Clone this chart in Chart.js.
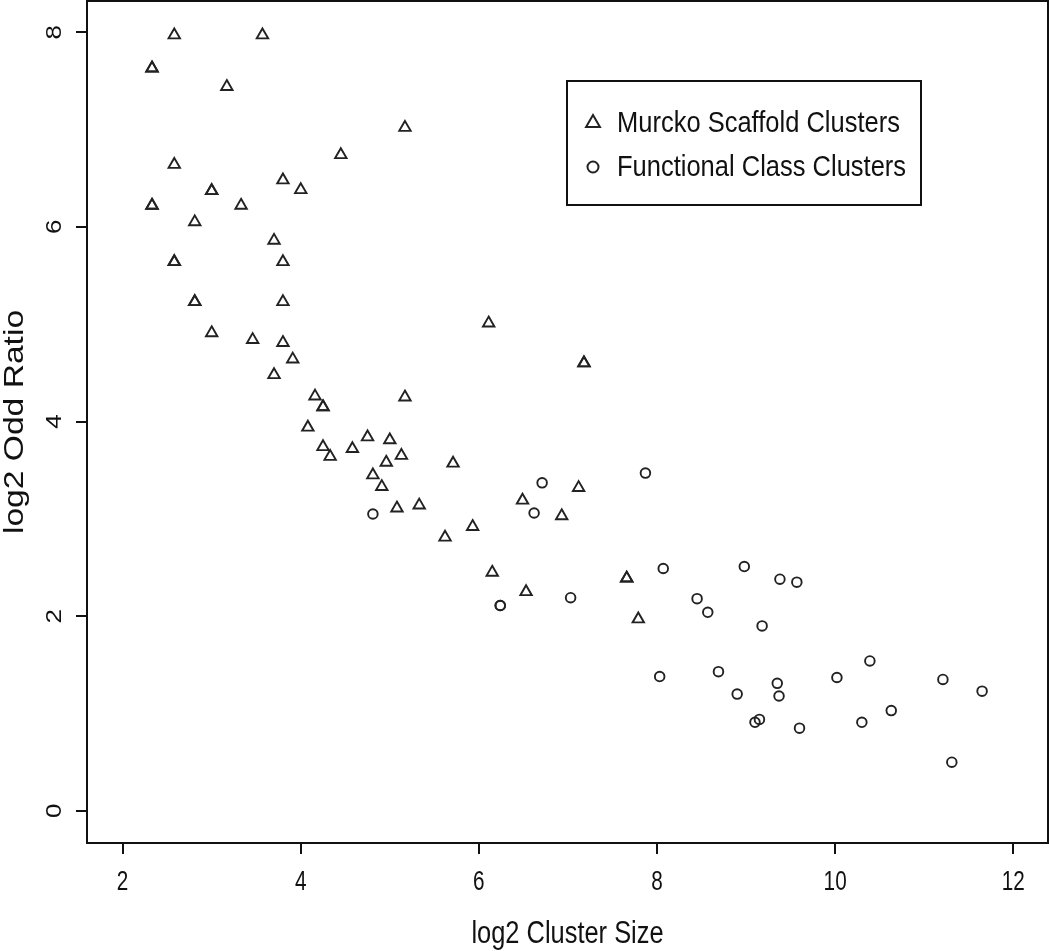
<!DOCTYPE html>
<html>
<head>
<meta charset="utf-8">
<title>log2 Odd Ratio vs log2 Cluster Size</title>
<script src="https://cdn.jsdelivr.net/npm/chart.js@4.4.1/dist/chart.umd.min.js"></script>
<style>
  html, body { margin: 0; padding: 0; background: #fff; }
  #chart { display: block; }
</style>
</head>
<body>
<canvas id="chart" width="1050" height="951"></canvas>
<script>
// Murcko scaffold clusters (triangles); repeated entries are overplotted points
const murckoX = [2.58, 3.57, 2.33, 2.33, 3.17, 5.17, 4.45, 2.58, 3.80, 4.00,
                 3.00, 3.00, 2.33, 2.33, 3.33, 2.81, 3.70, 2.58, 2.58, 3.80,
                 2.81, 2.81, 3.80, 3.00, 3.46, 3.80, 3.91, 3.70, 6.11, 7.18,
                 7.18, 4.16, 4.25, 4.25, 5.17, 4.08, 4.25, 4.33, 4.58, 4.75,
                 5.00, 4.81, 4.96, 5.13, 5.71, 4.91, 5.08, 5.33, 5.62, 5.93,
                 6.49, 6.93, 7.12, 6.15, 6.53, 7.66, 7.66, 7.79];
const murckoY = [7.97, 7.97, 7.63, 7.63, 7.44, 7.02, 6.74, 6.64, 6.48, 6.38,
                 6.37, 6.37, 6.22, 6.22, 6.22, 6.05, 5.86, 5.64, 5.64, 5.64,
                 5.23, 5.23, 5.23, 4.91, 4.84, 4.81, 4.64, 4.48, 5.01, 4.60,
                 4.60, 4.26, 4.15, 4.15, 4.25, 3.94, 3.74, 3.64, 3.72, 3.84,
                 3.81, 3.45, 3.58, 3.65, 3.57, 3.33, 3.11, 3.14, 2.81, 2.92,
                 3.19, 3.03, 3.32, 2.45, 2.25, 2.39, 2.39, 1.97];

// Functional class clusters (circles)
const functionalX = [4.81, 6.71, 6.62, 7.87, 6.24, 6.24, 7.03, 8.07, 8.45, 8.57,
                     8.98, 9.38, 9.57, 9.18, 8.03, 8.69, 8.90, 9.35, 9.37, 9.10,
                     9.15, 9.60, 10.02, 10.39, 10.30, 10.63, 11.21, 11.65, 11.31];
const functionalY = [3.05, 3.37, 3.06, 3.47, 2.11, 2.11, 2.19, 2.49, 2.18, 2.04,
                     2.51, 2.38, 2.35, 1.90, 1.38, 1.43, 1.20, 1.31, 1.18, 0.91,
                     0.94, 0.85, 1.37, 1.54, 0.91, 1.03, 1.35, 1.23, 0.50];

const seriesLabels = ['Murcko Scaffold Clusters', 'Functional Class Clusters'];
const xTickValues = [2, 4, 6, 8, 10, 12];
const yTickValues = [0, 2, 4, 6, 8];

const SANS = '"Liberation Sans", Arial, sans-serif';
const INK = '#222';
const TEXT = '#111';

function toPoints(xs, ys) {
    return xs.map((x, i) => ({ x: x, y: ys[i] }));
}

// draw text squeezed horizontally, to mimic the narrow face of the original
function narrowText(ctx, text, x, y, squeeze) {
    ctx.save();
    ctx.translate(x, y);
    ctx.scale(squeeze, 1);
    ctx.fillText(text, 0, 0);
    ctx.restore();
}

// R style box, tick labels, axis titles and a boxed legend
const framePlugin = {
    id: 'frame',
    afterDraw(chart) {
        const { ctx, chartArea: a, scales } = chart;
        ctx.save();
        ctx.strokeStyle = '#111';
        ctx.lineWidth = 2;
        ctx.strokeRect(a.left, a.top, a.right - a.left, a.bottom - a.top);

        ctx.fillStyle = TEXT;

        // y tick labels, rotated like R's default las = 0
        ctx.font = '26px ' + SANS;
        ctx.textAlign = 'center';
        ctx.textBaseline = 'middle';
        yTickValues.forEach(v => {
            ctx.save();
            ctx.translate(a.left - 32, scales.y.getPixelForValue(v));
            ctx.rotate(-Math.PI / 2);
            ctx.scale(1, 0.85);
            ctx.fillText(String(v), 0, 0);
            ctx.restore();
        });

        // x tick labels
        ctx.font = '28px ' + SANS;
        ctx.textBaseline = 'alphabetic';
        xTickValues.forEach(v => {
            narrowText(ctx, String(v), scales.x.getPixelForValue(v), a.bottom + 47, 0.74);
        });

        // x title
        ctx.font = '31px ' + SANS;
        narrowText(ctx, 'log2 Cluster Size', (a.left + a.right) / 2, a.bottom + 100, 0.82);

        // y title
        ctx.save();
        ctx.font = '28px ' + SANS;
        ctx.translate(a.left - 64, (a.top + a.bottom) / 2);
        ctx.rotate(-Math.PI / 2);
        ctx.scale(1.2, 1);
        ctx.fillText('log2 Odd Ratio', 0, 0);
        ctx.restore();

        // legend
        const left = a.left + 480, top = a.top + 80;
        ctx.lineWidth = 2;
        ctx.strokeRect(left, top, 354, 124);
        ctx.font = '30px ' + SANS;
        ctx.textAlign = 'left';
        ctx.textBaseline = 'middle';
        chart.data.datasets.forEach((ds, i) => {
            const cy = top + 42 + i * 44;
            ctx.strokeStyle = INK;
            ctx.fillStyle = 'rgba(0,0,0,0)';
            Chart.helpers.drawPoint(ctx, {
                pointStyle: ds.pointStyle,
                radius: ds.pointStyle === 'triangle' ? 8 : 5.5,
                borderWidth: 1.8,
                rotation: 0
            }, left + 26, cy);
            ctx.fillStyle = TEXT;
            narrowText(ctx, ds.label, left + 50, cy + 1, 0.85);
        });
        ctx.restore();
    }
};

const tickGrid = {
    drawOnChartArea: false,
    drawTicks: true,
    tickLength: 11,
    color: '#111',
    lineWidth: 2
};

new Chart(document.getElementById('chart'), {
    type: 'scatter',
    data: {
        datasets: [
            {
                label: seriesLabels[0],
                data: toPoints(murckoX, murckoY),
                pointStyle: 'triangle',
                pointRadius: 6.6,
                pointBorderWidth: 1.9,
                pointBorderColor: INK,
                pointBackgroundColor: 'rgba(0,0,0,0)'
            },
            {
                label: seriesLabels[1],
                data: toPoints(functionalX, functionalY),
                pointStyle: 'circle',
                pointRadius: 4.8,
                pointBorderWidth: 1.9,
                pointBorderColor: INK,
                pointBackgroundColor: 'rgba(0,0,0,0)'
            }
        ]
    },
    options: {
        responsive: false,
        animation: false,
        layout: { autoPadding: false, padding: { left: 0, top: 1, right: 2, bottom: 0 } },
        plugins: {
            legend: { display: false },
            tooltip: { enabled: false }
        },
        scales: {
            x: {
                type: 'linear',
                min: 1.6,
                max: 12.39,
                afterBuildTicks: s => { s.ticks = xTickValues.map(v => ({ value: v })); },
                afterFit: s => { s.height = 108; s.paddingLeft = 0; s.paddingRight = 0; },
                border: { display: false },
                grid: tickGrid,
                ticks: { display: false }
            },
            y: {
                type: 'linear',
                min: -0.33,
                max: 8.32,
                afterBuildTicks: s => { s.ticks = yTickValues.map(v => ({ value: v })); },
                afterFit: s => { s.width = 87; s.paddingTop = 0; s.paddingBottom = 0; },
                border: { display: false },
                grid: tickGrid,
                ticks: { display: false }
            }
        }
    },
    plugins: [framePlugin]
});
</script>
</body>
</html>
